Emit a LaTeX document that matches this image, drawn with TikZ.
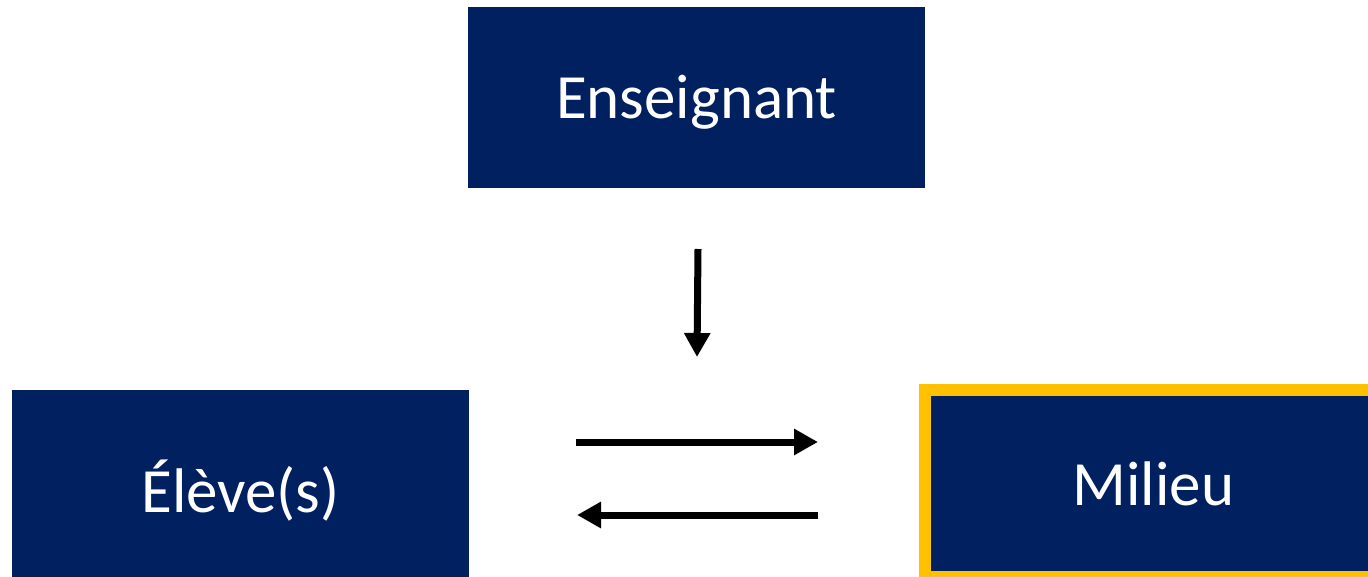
\documentclass[tikz,border=0pt]{standalone}
\usepackage{fontspec}
\setmainfont{Carlito}
\usetikzlibrary{arrows.meta}
\definecolor{navy}{HTML}{002060}
\definecolor{gold}{HTML}{FFC000}
\tikzset{
  box/.style={rectangle, fill=navy, text=white, inner sep=0pt, minimum width=457pt,
    font=\fontsize{63}{75}\selectfont, text height=45pt, text depth=2pt},
  arr/.style={line width=7pt, -{Triangle[length=24pt,width=25pt]}}
}
\begin{document}
\begin{tikzpicture}[x=1pt,y=-1pt]
\useasboundingbox (0,0) rectangle (1368,577);
\clip (0,0) rectangle (1368,577);
\node[box, minimum height=181pt] (ens) at (696.5,97.5) {Enseignant};
\node[box, minimum height=187pt, text height=60pt] (eleve) at (240.5,483.5) {Élève(s)};
\node[box, minimum height=187pt, draw=gold, line width=12pt] (mil) at (1153.5,483.5) {Milieu};
\coordinate (vtop) at (698,249);
\coordinate (vbot) at (697,357);
\coordinate (r1) at (576,442);
\coordinate (r2) at (818,442);
\coordinate (l1) at (818,515);
\coordinate (l2) at (577,515);
\draw[arr] (vtop) -- (vbot);
\draw[arr] (r1) -- (r2);
\draw[arr] (l1) -- (l2);
\end{tikzpicture}
\end{document}
